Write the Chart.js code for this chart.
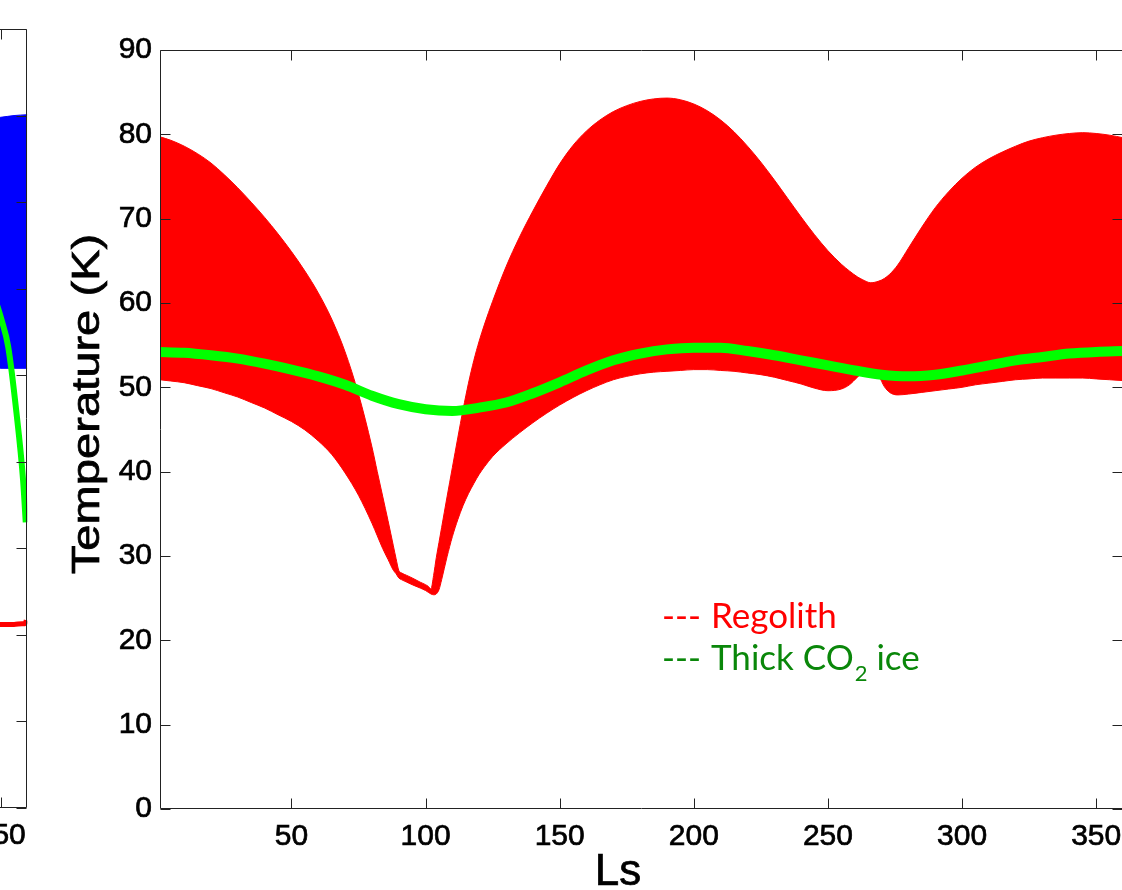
<!DOCTYPE html>
<html><head><meta charset="utf-8">
<script src="https://cdn.jsdelivr.net/npm/chart.js@4.4.1/dist/chart.umd.min.js"></script>
<style>
html,body{margin:0;padding:0;background:#fff;overflow:hidden;}
#wrap{position:relative;width:1122px;height:890px;overflow:hidden;background:#fff;}
#left{position:absolute;left:-527px;top:0;}
#main{position:absolute;left:0;top:0;}
</style></head><body>
<div id="wrap">
<canvas id="left" width="557" height="890"></canvas>
<canvas id="main" width="1135" height="890"></canvas>
</div>
<script>
// ---------- main panel data ----------
const mainLs = [1,5,10,15,20,25,30,35,40,45,50,55,60,65,70,75,80,82,84,86,88,89,90,91,93,95,98,100,101,102,103,104,105,106,108,110,112,114,116,118,120,122,125,130,135,140,145,150,155,160,165,170,175,180,185,190,195,200,205,210,215,220,225,230,235,240,245,250,255,258,261,263,266,269,271,273,276,280,285,290,295,300,305,310,315,320,325,330,335,340,345,350,355,360];
const regolithMax = [79.7,79.3,78.6,77.7,76.6,75.2,73.65,71.95,70.15,68.2,66.1,63.8,61.2,58.1,54.2,49.2,42.95,40.0,37.1,34.2,31.2,29.7,28.3,28.0,27.7,27.4,26.9,26.6,26.4,26.1,27.7,29.8,31.6,33.4,37.0,40.5,44.0,47.4,50.5,53.2,55.5,57.5,60.2,64.3,67.8,70.9,73.8,76.5,78.7,80.4,81.7,82.7,83.4,83.9,84.2,84.3,84.1,83.6,82.8,81.7,80.3,78.6,76.7,74.6,72.4,70.2,68.1,66.2,64.6,63.8,63.1,62.75,62.4,62.6,62.9,63.4,64.5,66.5,69.0,71.3,73.2,74.8,76.1,77.1,77.9,78.6,79.2,79.6,79.9,80.1,80.2,80.1,79.9,79.6];
const regolithMin = [50.9,50.75,50.55,50.2,49.85,49.35,48.85,48.2,47.55,46.75,45.95,44.95,43.65,42.05,39.85,37.2,33.9,32.4,30.9,29.6,28.3,27.9,27.4,27.2,26.9,26.6,26.2,25.9,25.7,25.5,25.4,25.5,26.0,27.2,29.9,32.3,34.3,36.0,37.4,38.6,39.7,40.6,41.8,43.3,44.6,45.8,46.9,47.9,48.8,49.6,50.3,50.9,51.3,51.6,51.8,51.9,52.0,52.1,52.1,52.0,51.9,51.7,51.5,51.2,50.8,50.4,49.9,49.6,49.8,50.3,51.2,51.7,51.8,51.3,50.1,49.4,49.1,49.2,49.4,49.6,49.8,50.0,50.3,50.5,50.7,50.9,51.0,51.1,51.1,51.1,51.1,51.0,50.9,50.8];
const co2Ls = [0,10,20,30,40,50,60,70,80,90,100,110,120,130,140,150,160,170,180,190,200,210,220,230,240,250,260,270,280,290,300,310,320,330,340,350,360];
const co2Ice = [54.2,54.1,53.8,53.4,52.8,52.1,51.3,50.3,49.0,48.0,47.4,47.2,47.6,48.2,49.3,50.6,52.0,53.2,54.0,54.5,54.7,54.7,54.3,53.8,53.2,52.6,52.0,51.5,51.3,51.5,52.0,52.6,53.2,53.6,54.0,54.2,54.3];
const xTicks = [50,100,150,200,250,300,350];
const yTicks = [0,10,20,30,40,50,60,70,80,90];
const xTitle = 'Ls';
const yTitle = 'Temperature (K)';
const legendLabels = ['Regolith','Thick CO','2',' ice'];

// ---------- left (cropped) panel data ----------
const leftBandLs = [340,345,350,355,360];
const leftBandMax = [79.5,79.7,79.8,80.0,80.1];
const leftBandMin = [50.8,50.8,50.8,50.8,50.8];
const leftGreenLs = [346,350.3,352.8,355.9,358.4,359.4];
const leftGreen = [60.5,56.4,53.3,45.7,37.9,33.0];
const leftRedLs = [340,350,355,358,359.2,359.6];
const leftRed = [21.2,21.2,21.2,21.3,21.3,21.7];
const leftXTicks = [200,250,300,350];

const pts = (xs, ys) => xs.map((x,i)=>({x:x,y:ys[i]}));
const FONT = 'Liberation Sans, Arial, Helvetica, sans-serif';
const AX = '#222';

function framePlugin(opts){
  return {
    id:'frame',
    afterDraw(chart){
      const {ctx, chartArea:a, scales:{x,y}} = chart;
      const L = Math.round(a.left)+0.5, R = Math.round(a.right)-0.5, T = Math.round(a.top)+0.5, B = Math.round(a.bottom)-0.5;
      ctx.save();
      ctx.strokeStyle = AX; ctx.lineWidth = 1;
      ctx.beginPath();
      ctx.moveTo(L,T); ctx.lineTo(R,T); ctx.lineTo(R,B); ctx.lineTo(L,B); ctx.closePath();
      const tl = 10;
      opts.xt.forEach(v=>{
        const px = Math.round(x.getPixelForValue(v))+0.5;
        ctx.moveTo(px,B); ctx.lineTo(px,B-tl);
        ctx.moveTo(px,T); ctx.lineTo(px,T+tl);
      });
      yTicks.forEach(v=>{
        const py = Math.round(y.getPixelForValue(v))+0.5;
        ctx.moveTo(L,py); ctx.lineTo(L+tl,py);
        ctx.moveTo(R,py); ctx.lineTo(R-tl,py);
      });
      ctx.stroke();
      if (opts.main){
        // axis titles
        ctx.fillStyle = '#000';
        ctx.strokeStyle = '#000';
        ctx.lineWidth = 0.7;
        ctx.textAlign = 'center';
        ctx.textBaseline = 'alphabetic';
        ctx.font = '44px ' + FONT;
        ctx.fillText(xTitle, 618, 885);
        ctx.strokeText(xTitle, 618, 885);
        ctx.save();
        ctx.translate(99, 404);
        ctx.rotate(-Math.PI/2);
        ctx.scale(1.24, 1);
        ctx.font = '38px ' + FONT;
        ctx.fillText(yTitle, 0, 0);
        ctx.strokeText(yTitle, 0, 0);
        ctx.restore();
        // legend
        ctx.textAlign = 'left';
        const big = '35px Lato, Open Sans, sans-serif';
        const small = '22px Lato, Open Sans, sans-serif';
        ctx.font = big;
        ctx.fillStyle = '#ff0000';
        ctx.fillText('---', 662, 628);
        ctx.fillText(legendLabels[0], 711, 628);
        ctx.fillStyle = '#0a870a';
        ctx.fillText('---', 662, 670);
        let xx = 711;
        ctx.fillText(legendLabels[1], xx, 670);
        xx += ctx.measureText(legendLabels[1]).width + 1;
        ctx.font = small;
        ctx.fillText(legendLabels[2], xx, 681);
        xx += ctx.measureText(legendLabels[2]).width;
        ctx.font = big;
        ctx.fillText(legendLabels[3], xx, 670);
      }
      ctx.restore();
    }
  };
}

const tickFont = {font:{family:FONT,size:30}, color:'#000', textStrokeColor:'#000', textStrokeWidth:0.7, autoSkip:false};
const common = {responsive:false, animation:false, devicePixelRatio:1,
  plugins:{legend:{display:false}, tooltip:{enabled:false}},
  elements:{point:{radius:0}}};

new Chart(document.getElementById('main'), {
  type:'line',
  data:{datasets:[
    {label:'Regolith min', data:pts(mainLs,regolithMin), borderColor:'#ff0000', borderWidth:1, fill:false, cubicInterpolationMode:'monotone', order:1, pointRadius:0},
    {label:'Regolith', data:pts(mainLs,regolithMax), borderColor:'#ff0000', borderWidth:1, backgroundColor:'#ff0000', fill:'-1', cubicInterpolationMode:'monotone', order:1, pointRadius:0},
    {label:'Thick CO2 ice', data:pts(co2Ls,co2Ice), borderColor:'#00ff00', borderWidth:10, fill:false, cubicInterpolationMode:'monotone', order:0, pointRadius:0}
  ]},
  options:Object.assign({}, common, {
    layout:{padding:{top:50,right:12,left:0,bottom:0}},
    scales:{
      x:{type:'linear', min:1, max:360,
        grid:{display:false, drawTicks:false}, border:{display:false},
        afterBuildTicks:s=>{s.ticks = xTicks.map(v=>({value:v}));},
        afterFit:s=>{s.height = 81;},
        ticks:Object.assign({padding:10, maxRotation:0}, tickFont)
      },
      y:{type:'linear', min:0, max:90,
        grid:{display:false, drawTicks:false}, border:{display:false},
        afterBuildTicks:s=>{s.ticks = yTicks.map(v=>({value:v}));},
        afterFit:s=>{s.width = 160;},
        ticks:Object.assign({padding:8}, tickFont)
      }
    }
  }),
  plugins:[framePlugin({xt:xTicks, main:true})]
});

const leftChart = new Chart(document.getElementById('left'), {
  type:'line',
  data:{datasets:[
    {label:'min', data:pts(leftBandLs,leftBandMin), borderColor:'#0000ff', borderWidth:1, fill:false, order:2, pointRadius:0},
    {label:'max', data:pts(leftBandLs,leftBandMax), borderColor:'#0000ff', borderWidth:1, backgroundColor:'#0000ff', fill:'-1', cubicInterpolationMode:'monotone', order:2, pointRadius:0},
    {label:'red', data:pts(leftRedLs,leftRed), borderColor:'#ff0000', borderWidth:5, fill:false, cubicInterpolationMode:'monotone', order:1, pointRadius:0},
    {label:'green', data:pts(leftGreenLs,leftGreen), borderColor:'#00ff00', borderWidth:6, fill:false, cubicInterpolationMode:'monotone', order:0, pointRadius:0}
  ]},
  options:Object.assign({}, common, {
    layout:{padding:{top:29,right:4,left:0,bottom:0}},
    scales:{
      x:{type:'linear', min:180, max:360,
        grid:{display:false, drawTicks:false}, border:{display:false},
        afterBuildTicks:s=>{s.ticks = leftXTicks.map(v=>({value:v}));},
        afterFit:s=>{s.height = 82;},
        ticks:Object.assign({padding:10, maxRotation:0}, tickFont)
      },
      y:{type:'linear', min:0, max:90,
        grid:{display:false, drawTicks:false}, border:{display:false},
        afterBuildTicks:s=>{s.ticks = yTicks.map(v=>({value:v}));},
        afterFit:s=>{s.width = 70;},
        ticks:Object.assign({padding:8}, tickFont)
      }
    }
  }),
  plugins:[framePlugin({xt:leftXTicks, main:false})]
});
document.getElementById('left').style.left = Math.round(27 - leftChart.chartArea.right) + 'px';
</script>
</body></html>
